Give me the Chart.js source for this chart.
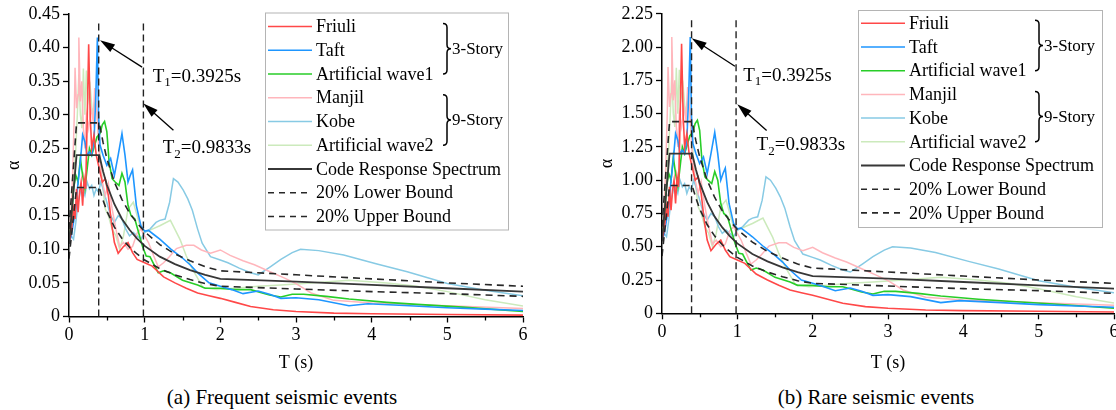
<!DOCTYPE html>
<html>
<head>
<meta charset="utf-8">
<script src="https://cdn.jsdelivr.net/npm/chart.js@4.4.1/dist/chart.umd.min.js"></script>
<style>
  html, body { margin: 0; padding: 0; background: #fff; }
  body { width: 1116px; height: 410px; position: relative; overflow: hidden; font-family: "Liberation Serif", "Times New Roman", serif; }
  canvas { position: absolute; top: 0; }
  #chart-frequent { left: 0; }
  #chart-rare { left: 593px; }
  .caption { position: absolute; top: 384px; width: 400px; text-align: center; font-size: 21px; line-height: 26px; color: #000; }
</style>
</head>
<body>
<canvas id="chart-frequent" width="545" height="380"></canvas>
<canvas id="chart-rare" width="530" height="380"></canvas>
<div class="caption" style="left: 82px;">(a) Frequent seismic events</div>
<div class="caption" style="left: 676px;">(b) Rare seismic events</div>
<script>
// periods (s) and spectral coefficients of each record
const periodsFriuli = [0, 0.03, 0.06, 0.08, 0.1, 0.12, 0.14, 0.16, 0.18, 0.2, 0.22, 0.24, 0.26, 0.28, 0.3, 0.33, 0.36, 0.4, 0.44, 0.48, 0.52, 0.56, 0.6, 0.65, 0.72, 0.78, 0.84, 0.9, 1.0, 1.1, 1.25, 1.4, 1.55, 1.7, 1.85, 2.0, 2.2, 2.4, 2.7, 3.0, 3.5, 4.0, 5.0, 6.0];
const friuliFrequent = [0.11, 0.125, 0.16, 0.145, 0.19, 0.155, 0.185, 0.2, 0.165, 0.205, 0.19, 0.29, 0.405, 0.3, 0.25, 0.27, 0.24, 0.22, 0.2, 0.205, 0.18, 0.14, 0.11, 0.094, 0.104, 0.11, 0.095, 0.085, 0.08, 0.075, 0.059, 0.05, 0.042, 0.035, 0.031, 0.027, 0.021, 0.015, 0.01, 0.0075, 0.005, 0.004, 0.003, 0.002];
const friuliRare = [0.55, 0.625, 0.8, 0.725, 0.95, 0.775, 0.925, 1.0, 0.825, 1.025, 0.95, 1.45, 2.025, 1.5, 1.25, 1.35, 1.2, 1.1, 1.0, 1.025, 0.9, 0.7, 0.55, 0.47, 0.52, 0.55, 0.475, 0.425, 0.4, 0.375, 0.295, 0.25, 0.21, 0.175, 0.155, 0.135, 0.105, 0.075, 0.05, 0.0375, 0.025, 0.02, 0.015, 0.01];

const periodsTaft = [0, 0.03, 0.06, 0.09, 0.12, 0.15, 0.18, 0.21, 0.24, 0.27, 0.3, 0.33, 0.355, 0.375, 0.39, 0.41, 0.45, 0.5, 0.55, 0.6, 0.65, 0.7, 0.74, 0.78, 0.81, 0.84, 0.89, 0.95, 1.0, 1.05, 1.12, 1.2, 1.35, 1.5, 1.6, 1.7, 1.85, 2.0, 2.15, 2.3, 2.5, 2.65, 2.8, 3.0, 3.3, 3.7, 3.95, 4.5, 5.0, 5.5, 6.0];
const taftFrequent = [0.11, 0.12, 0.14, 0.16, 0.2, 0.23, 0.27, 0.26, 0.24, 0.245, 0.24, 0.26, 0.33, 0.415, 0.3, 0.255, 0.24, 0.225, 0.235, 0.21, 0.24, 0.272, 0.24, 0.2, 0.21, 0.218, 0.165, 0.135, 0.127, 0.128, 0.122, 0.115, 0.1, 0.087, 0.077, 0.065, 0.05, 0.045, 0.04, 0.034, 0.038, 0.033, 0.027, 0.028, 0.025, 0.016, 0.019, 0.016, 0.013, 0.011, 0.009];
const taftRare = [0.55, 0.6, 0.7, 0.8, 1.0, 1.15, 1.35, 1.3, 1.2, 1.225, 1.2, 1.3, 1.65, 2.075, 1.5, 1.275, 1.2, 1.125, 1.175, 1.05, 1.2, 1.36, 1.2, 1.0, 1.05, 1.09, 0.825, 0.675, 0.635, 0.64, 0.61, 0.575, 0.5, 0.435, 0.385, 0.325, 0.25, 0.225, 0.2, 0.17, 0.19, 0.165, 0.135, 0.14, 0.125, 0.08, 0.095, 0.08, 0.065, 0.055, 0.045];

const periodsWave1 = [0, 0.03, 0.06, 0.09, 0.12, 0.15, 0.18, 0.21, 0.24, 0.27, 0.3, 0.34, 0.37, 0.41, 0.44, 0.47, 0.5, 0.53, 0.57, 0.61, 0.66, 0.7, 0.74, 0.78, 0.82, 0.87, 0.92, 0.97, 1.02, 1.07, 1.12, 1.18, 1.25, 1.34, 1.5, 1.7, 1.8, 2.0, 2.2, 2.4, 2.65, 2.8, 2.95, 3.1, 3.4, 3.7, 4.2, 4.6, 5.2, 6.0];
const wave1Frequent = [0.11, 0.14, 0.19, 0.21, 0.2, 0.235, 0.21, 0.19, 0.22, 0.25, 0.24, 0.255, 0.267, 0.272, 0.285, 0.29, 0.275, 0.23, 0.205, 0.2, 0.195, 0.213, 0.2, 0.165, 0.15, 0.145, 0.125, 0.105, 0.09, 0.089, 0.078, 0.065, 0.068, 0.065, 0.054, 0.047, 0.042, 0.042, 0.04, 0.04, 0.032, 0.029, 0.033, 0.033, 0.03, 0.026, 0.021, 0.018, 0.014, 0.0075];
const wave1Rare = [0.55, 0.7, 0.95, 1.05, 1.0, 1.175, 1.05, 0.95, 1.1, 1.25, 1.2, 1.275, 1.335, 1.36, 1.425, 1.45, 1.375, 1.15, 1.025, 1.0, 0.975, 1.065, 1.0, 0.825, 0.75, 0.725, 0.625, 0.525, 0.45, 0.445, 0.39, 0.325, 0.34, 0.325, 0.27, 0.235, 0.21, 0.21, 0.2, 0.2, 0.16, 0.145, 0.165, 0.165, 0.15, 0.13, 0.105, 0.09, 0.07, 0.0375];

const periodsManjil = [0, 0.03, 0.05, 0.07, 0.08, 0.1, 0.12, 0.13, 0.15, 0.17, 0.19, 0.21, 0.23, 0.26, 0.29, 0.32, 0.34, 0.37, 0.4, 0.44, 0.48, 0.52, 0.57, 0.62, 0.67, 0.72, 0.78, 0.84, 0.9, 0.95, 1.0, 1.05, 1.12, 1.18, 1.25, 1.32, 1.42, 1.55, 1.65, 1.75, 1.87, 2.0, 2.13, 2.3, 2.45, 2.65, 2.85, 3.0, 3.2, 3.5, 4.0, 4.5, 5.0, 6.0];
const manjilFrequent = [0.11, 0.16, 0.22, 0.3, 0.37, 0.31, 0.33, 0.415, 0.32, 0.35, 0.28, 0.25, 0.3, 0.28, 0.31, 0.29, 0.34, 0.3, 0.24, 0.2, 0.18, 0.198, 0.16, 0.13, 0.104, 0.11, 0.1, 0.104, 0.124, 0.13, 0.12, 0.11, 0.09, 0.074, 0.08, 0.088, 0.101, 0.106, 0.106, 0.099, 0.094, 0.099, 0.091, 0.083, 0.077, 0.067, 0.057, 0.049, 0.035, 0.024, 0.02, 0.018, 0.016, 0.012];
const manjilRare = [0.55, 0.8, 1.1, 1.5, 1.85, 1.55, 1.65, 2.075, 1.6, 1.75, 1.4, 1.25, 1.5, 1.4, 1.55, 1.45, 1.7, 1.5, 1.2, 1.0, 0.9, 0.99, 0.8, 0.65, 0.52, 0.55, 0.5, 0.52, 0.62, 0.65, 0.6, 0.55, 0.45, 0.37, 0.4, 0.44, 0.505, 0.53, 0.53, 0.495, 0.47, 0.495, 0.455, 0.415, 0.385, 0.335, 0.285, 0.245, 0.175, 0.12, 0.1, 0.09, 0.08, 0.06];

const periodsKobe = [0, 0.03, 0.06, 0.09, 0.12, 0.15, 0.18, 0.21, 0.24, 0.27, 0.3, 0.33, 0.36, 0.39, 0.42, 0.45, 0.5, 0.55, 0.6, 0.65, 0.7, 0.75, 0.8, 0.85, 0.9, 0.95, 1.0, 1.07, 1.15, 1.2, 1.27, 1.33, 1.38, 1.44, 1.51, 1.57, 1.63, 1.7, 1.76, 1.87, 2.0, 2.1, 2.25, 2.4, 2.5, 2.66, 2.8, 2.95, 3.06, 3.3, 3.63, 4.07, 4.47, 5.0, 5.5, 6.0];
const kobeFrequent = [0.11, 0.12, 0.115, 0.14, 0.17, 0.185, 0.19, 0.18, 0.2, 0.19, 0.195, 0.18, 0.19, 0.185, 0.2, 0.19, 0.17, 0.15, 0.14, 0.15, 0.145, 0.13, 0.12, 0.125, 0.12, 0.115, 0.125, 0.13, 0.14, 0.143, 0.145, 0.17, 0.205, 0.2, 0.188, 0.175, 0.158, 0.13, 0.109, 0.089, 0.084, 0.08, 0.072, 0.065, 0.062, 0.074, 0.085, 0.095, 0.1, 0.098, 0.0915, 0.078, 0.0667, 0.049, 0.039, 0.031];
const kobeRare = [0.55, 0.6, 0.575, 0.7, 0.85, 0.925, 0.95, 0.9, 1.0, 0.95, 0.975, 0.9, 0.95, 0.925, 1.0, 0.95, 0.85, 0.75, 0.7, 0.75, 0.725, 0.65, 0.6, 0.625, 0.6, 0.575, 0.625, 0.65, 0.7, 0.715, 0.725, 0.85, 1.025, 1.0, 0.94, 0.875, 0.79, 0.65, 0.545, 0.445, 0.42, 0.4, 0.36, 0.325, 0.31, 0.37, 0.425, 0.475, 0.5, 0.49, 0.4575, 0.39, 0.3335, 0.245, 0.195, 0.155];

const periodsWave2 = [0, 0.03, 0.06, 0.09, 0.11, 0.13, 0.15, 0.17, 0.19, 0.21, 0.23, 0.25, 0.28, 0.31, 0.34, 0.37, 0.4, 0.44, 0.48, 0.52, 0.57, 0.62, 0.67, 0.72, 0.78, 0.85, 0.9, 0.95, 1.0, 1.1, 1.2, 1.34, 1.47, 1.55, 1.64, 1.77, 1.95, 2.2, 2.5, 2.8, 3.2, 3.7, 4.2, 4.6, 5.0, 5.5, 6.0];
const wave2Frequent = [0.11, 0.15, 0.2, 0.25, 0.3, 0.36, 0.3, 0.28, 0.369, 0.3, 0.366, 0.32, 0.342, 0.3, 0.32, 0.3, 0.26, 0.2, 0.16, 0.15, 0.13, 0.12, 0.1, 0.12, 0.16, 0.17, 0.15, 0.13, 0.125, 0.13, 0.135, 0.143, 0.114, 0.09, 0.069, 0.043, 0.04, 0.042, 0.045, 0.047, 0.05, 0.054, 0.05, 0.045, 0.037, 0.025, 0.0155];
const wave2Rare = [0.55, 0.75, 1.0, 1.25, 1.5, 1.8, 1.5, 1.4, 1.845, 1.5, 1.83, 1.6, 1.71, 1.5, 1.6, 1.5, 1.3, 1.0, 0.8, 0.75, 0.65, 0.6, 0.5, 0.6, 0.8, 0.85, 0.75, 0.65, 0.625, 0.65, 0.675, 0.715, 0.57, 0.45, 0.345, 0.215, 0.2, 0.21, 0.225, 0.235, 0.25, 0.27, 0.25, 0.225, 0.185, 0.125, 0.0775];

// design code spectrum and its +/-20% envelope
const periodsCode = [0, 0.1, 0.4, 0.45, 0.5, 0.6, 0.7, 0.8, 0.9, 1.0, 1.2, 1.4, 1.6, 1.8, 2.0, 3.0, 4.0, 5.0, 6.0];
const codeFrequent = [0.108, 0.24, 0.24, 0.216, 0.196, 0.167, 0.145, 0.129, 0.116, 0.105, 0.089, 0.078, 0.069, 0.062, 0.056, 0.052, 0.047, 0.042, 0.037];
const lowerFrequent = [0.086, 0.192, 0.192, 0.173, 0.157, 0.133, 0.116, 0.103, 0.093, 0.084, 0.071, 0.062, 0.055, 0.049, 0.045, 0.041, 0.037, 0.034, 0.03];
const upperFrequent = [0.13, 0.288, 0.288, 0.259, 0.235, 0.2, 0.174, 0.154, 0.139, 0.126, 0.107, 0.093, 0.083, 0.074, 0.068, 0.062, 0.056, 0.05, 0.045];
const codeRare = [0.54, 1.2, 1.2, 1.08, 0.98, 0.835, 0.725, 0.645, 0.58, 0.525, 0.445, 0.39, 0.345, 0.31, 0.28, 0.26, 0.235, 0.21, 0.185];
const lowerRare = [0.43, 0.96, 0.96, 0.865, 0.785, 0.665, 0.58, 0.515, 0.465, 0.42, 0.355, 0.31, 0.275, 0.245, 0.225, 0.205, 0.185, 0.17, 0.15];
const upperRare = [0.65, 1.44, 1.44, 1.295, 1.175, 1.0, 0.87, 0.77, 0.695, 0.63, 0.535, 0.465, 0.415, 0.37, 0.34, 0.31, 0.28, 0.25, 0.225];

// fundamental periods of the 3-story and 9-story frames
const T1 = 0.3925;
const T2 = 0.9833;

Chart.defaults.font.family = '"Liberation Serif", "Times New Roman", serif';
Chart.defaults.color = '#000';

const pts = (periods, values) => periods.map((t, i) => ({ x: t, y: values[i] }));

function recordLine(label, periods, values, color, width, order) {
  return { label, data: pts(periods, values), borderColor: color, borderWidth: width, order };
}

function buildDatasets(v, periodLineTop) {
  return [
    recordLine('Friuli', periodsFriuli, v.friuli, 'rgb(255,72,72)', 1.6, 3),
    recordLine('Taft', periodsTaft, v.taft, 'rgb(30,150,255)', 1.6, 3),
    recordLine('Artificial wave1', periodsWave1, v.wave1, 'rgb(40,205,40)', 1.6, 3),
    recordLine('Manjil', periodsManjil, v.manjil, 'rgb(255,182,188)', 1.5, 5),
    recordLine('Kobe', periodsKobe, v.kobe, 'rgb(135,202,228)', 1.5, 5),
    recordLine('Artificial wave2', periodsWave2, v.wave2, 'rgb(204,234,188)', 1.5, 5),
    recordLine('Code Response Spectrum', periodsCode, v.code, 'rgb(55,55,55)', 1.8, 2),
    { ...recordLine('20% Lower Bound', periodsCode, v.lower, 'rgb(40,40,40)', 1.6, 2), borderDash: [7, 5] },
    { ...recordLine('20% Upper Bound', periodsCode, v.upper, 'rgb(40,40,40)', 1.6, 2), borderDash: [7, 5] },
    { data: [{ x: T1, y: 0 }, { x: T1, y: periodLineTop }], borderColor: '#222', borderWidth: 1.4, borderDash: [7, 4], order: 1 },
    { data: [{ x: T2, y: 0 }, { x: T2, y: periodLineTop }], borderColor: '#222', borderWidth: 1.4, borderDash: [7, 4], order: 1 }
  ];
}

// legend box with brace groups, drawn inside the plot
const spectrumLegend = {
  id: 'spectrumLegend',
  afterDraw(chart, args, o) {
    const ctx = chart.ctx;
    const items = chart.data.datasets.filter(ds => ds.label);
    const rowY = i => o.y + o.firstRow + i * o.rowGap;
    ctx.save();
    ctx.fillStyle = '#fff';
    ctx.fillRect(o.x, o.y, o.width, o.height);
    ctx.strokeStyle = '#b4b4b4';
    ctx.lineWidth = 1;
    ctx.strokeRect(o.x + 0.5, o.y + 0.5, o.width, o.height);
    ctx.font = '18px "Liberation Serif"';
    ctx.textBaseline = 'middle';
    ctx.textAlign = 'left';
    items.forEach((ds, i) => {
      const y = rowY(i);
      ctx.beginPath();
      ctx.strokeStyle = ds.borderColor;
      ctx.lineWidth = ds.borderWidth;
      ctx.setLineDash(ds.borderDash ? [6, 5] : []);
      ctx.moveTo(o.x + 3, y);
      ctx.lineTo(o.x + 47, y);
      ctx.stroke();
      ctx.setLineDash([]);
      ctx.fillStyle = '#000';
      ctx.fillText(ds.label, o.x + 51, y + 1);
    });
    o.groups.forEach(g => {
      const top = rowY(g.from) - 3, bottom = rowY(g.to), mid = (top + bottom) / 2;
      const bx = o.x + o.braceX, w = 8, r = 4;
      ctx.beginPath();
      ctx.strokeStyle = '#000';
      ctx.lineWidth = 1.5;
      ctx.moveTo(bx, top);
      ctx.quadraticCurveTo(bx + w / 2, top, bx + w / 2, top + r);
      ctx.lineTo(bx + w / 2, mid - r);
      ctx.quadraticCurveTo(bx + w / 2, mid, bx + w, mid);
      ctx.quadraticCurveTo(bx + w / 2, mid, bx + w / 2, mid + r);
      ctx.lineTo(bx + w / 2, bottom - r);
      ctx.quadraticCurveTo(bx + w / 2, bottom, bx, bottom);
      ctx.stroke();
      ctx.font = '17px "Liberation Serif"';
      ctx.fillStyle = '#000';
      ctx.fillText(g.label, bx + w + 1, mid + 1);
    });
    ctx.restore();
  }
};

function drawArrow(ctx, x0, y0, x1, y1) {
  const a = Math.atan2(y1 - y0, x1 - x0);
  const len = 15, half = 4.5;
  ctx.beginPath();
  ctx.moveTo(x0, y0);
  ctx.lineTo(x1 - Math.cos(a) * len * 0.8, y1 - Math.sin(a) * len * 0.8);
  ctx.stroke();
  ctx.beginPath();
  ctx.moveTo(x1, y1);
  ctx.lineTo(x1 - len * Math.cos(a) + half * Math.sin(a), y1 - len * Math.sin(a) - half * Math.cos(a));
  ctx.lineTo(x1 - len * Math.cos(a) - half * Math.sin(a), y1 - len * Math.sin(a) + half * Math.cos(a));
  ctx.closePath();
  ctx.fill();
}

// arrows and T1 / T2 labels
const periodNotes = {
  id: 'periodNotes',
  afterDatasetsDraw(chart, args, o) {
    const { ctx, scales: { x, y } } = chart;
    ctx.save();
    ctx.strokeStyle = '#000';
    ctx.fillStyle = '#000';
    ctx.lineWidth = 1.3;
    o.notes.forEach(n => {
      drawArrow(ctx, x.getPixelForValue(n.tail[0]), y.getPixelForValue(n.tail[1]),
        x.getPixelForValue(n.tip[0]), y.getPixelForValue(n.tip[1]));
      let px = x.getPixelForValue(n.text[0]);
      const py = y.getPixelForValue(n.text[1]);
      ctx.textBaseline = 'middle';
      ctx.textAlign = 'left';
      ctx.font = '19px "Liberation Serif"';
      ctx.fillText('T', px, py);
      px += ctx.measureText('T').width;
      ctx.font = '13px "Liberation Serif"';
      ctx.fillText(n.sub, px, py + 6);
      px += ctx.measureText(n.sub).width;
      ctx.font = '19px "Liberation Serif"';
      ctx.fillText('=' + n.value + 's', px, py);
    });
    ctx.restore();
  }
};

// short ticks half way between the labelled x ticks
const minorTicks = {
  id: 'minorTicks',
  afterDraw(chart) {
    const { ctx, scales: { x }, chartArea } = chart;
    const ticks = x.ticks;
    ctx.save();
    ctx.strokeStyle = '#000';
    ctx.lineWidth = 1.3;
    for (let i = 0; i < ticks.length - 1; i++) {
      const px = Math.round(x.getPixelForValue((ticks[i].value + ticks[i + 1].value) / 2)) + 0.5;
      ctx.beginPath();
      ctx.moveTo(px, chartArea.bottom);
      ctx.lineTo(px, chartArea.bottom + 4);
      ctx.stroke();
    }
    ctx.restore();
  }
};

function makeChart(id, cfg) {
  return new Chart(document.getElementById(id), {
    type: 'line',
    data: { datasets: cfg.datasets },
    options: {
      responsive: false,
      animation: false,
      devicePixelRatio: 1,
      layout: { padding: { left: 0, right: cfg.padRight, top: cfg.padTop, bottom: 0 } },
      elements: { point: { radius: 0 }, line: { tension: 0, fill: false } },
      plugins: {
        legend: { display: false },
        tooltip: { enabled: false },
        spectrumLegend: cfg.legend,
        periodNotes: { notes: cfg.notes }
      },
      scales: {
        x: {
          type: 'linear',
          min: 0,
          max: 6,
          afterFit: s => { s.height = cfg.xHeight; },
          ticks: { stepSize: 1, padding: 2, font: { size: 18 } },
          grid: { drawOnChartArea: false, drawTicks: true, tickLength: 6, tickColor: '#000', tickWidth: 1.3 },
          border: { display: true, color: '#000', width: 1.5 },
          title: { display: true, text: 'T (s)', font: { size: 18 }, padding: { top: 0, bottom: 6 } }
        },
        y: {
          type: 'linear',
          min: 0,
          max: cfg.yMax,
          afterFit: s => { s.width = 69; },
          ticks: { stepSize: cfg.yStep, padding: 3, font: { size: 18 },
            callback: v => (Math.abs(v) < 1e-9 ? '0' : v.toFixed(2)) },
          grid: { drawOnChartArea: false, drawTicks: true, tickLength: 6, tickColor: '#000', tickWidth: 1.3 },
          border: { display: true, color: '#000', width: 1.5 },
          title: { display: true, text: 'α', font: { size: 18 }, padding: { top: 3, bottom: 0 } }
        }
      }
    },
    plugins: [minorTicks, periodNotes, spectrumLegend]
  });
}

const storyGroups = [{ label: '3-Story', from: 0, to: 2 }, { label: '9-Story', from: 3, to: 5 }];

makeChart('chart-frequent', {
  datasets: buildDatasets({
    friuli: friuliFrequent, taft: taftFrequent, wave1: wave1Frequent,
    manjil: manjilFrequent, kobe: kobeFrequent, wave2: wave2Frequent,
    code: codeFrequent, lower: lowerFrequent, upper: upperFrequent
  }, 0.44),
  yMax: 0.45, yStep: 0.05, padTop: 14, padRight: 22, xHeight: 63.5,
  legend: { x: 265, y: 12.5, width: 243, height: 217, firstRow: 14, rowGap: 23.75, braceX: 178, groups: storyGroups },
  notes: [
    { tail: [0.966, 0.371], tip: [0.41, 0.411], text: [1.107, 0.357], sub: '1', value: T1 },
    { tail: [1.38, 0.277], tip: [0.983, 0.317], text: [1.239, 0.25], sub: '2', value: T2 }
  ]
});

makeChart('chart-rare', {
  datasets: buildDatasets({
    friuli: friuliRare, taft: taftRare, wave1: wave1Rare,
    manjil: manjilRare, kobe: kobeRare, wave2: wave2Rare,
    code: codeRare, lower: lowerRare, upper: upperRare
  }, 2.21),
  yMax: 2.25, yStep: 0.25, padTop: 10, padRight: 9, xHeight: 66.7,
  legend: { x: 265, y: 10, width: 244, height: 217, firstRow: 13.3, rowGap: 23.7, braceX: 177, groups: storyGroups },
  notes: [
    { tail: [0.968, 1.856], tip: [0.394, 2.066], text: [1.078, 1.786], sub: '1', value: T1 },
    { tail: [1.389, 1.373], tip: [0.999, 1.571], text: [1.256, 1.262], sub: '2', value: T2 }
  ]
});
</script>
</body>
</html>
